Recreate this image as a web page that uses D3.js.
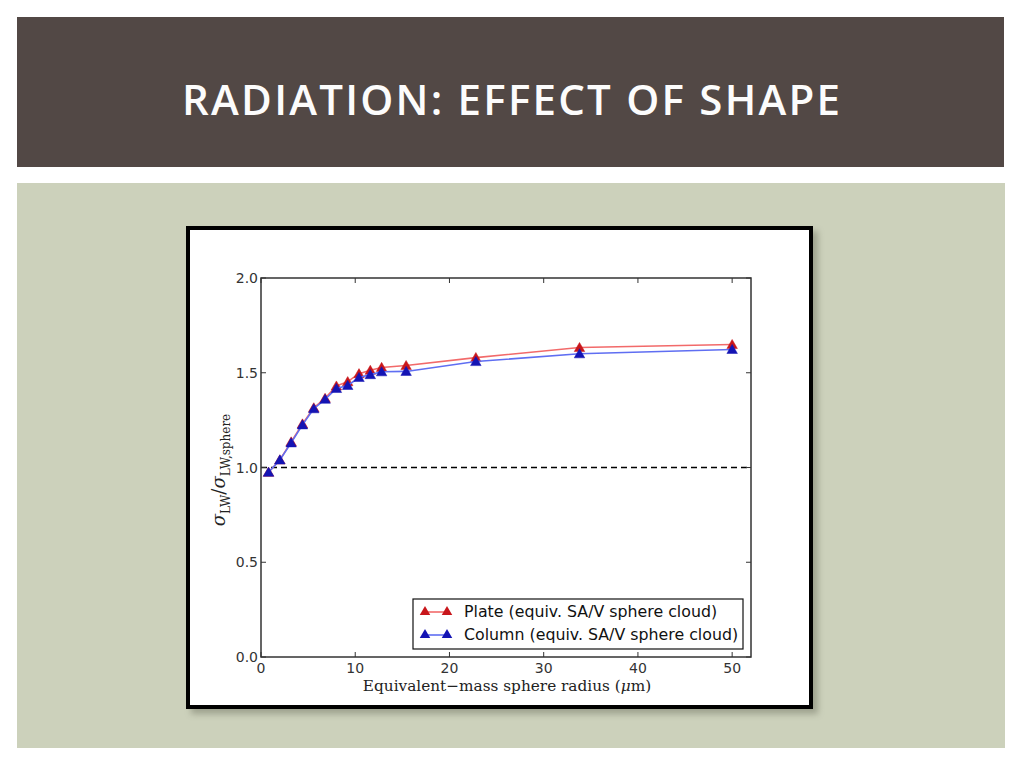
<!DOCTYPE html>
<html><head><meta charset="utf-8">
<script src="https://cdn.jsdelivr.net/npm/d3@7"></script>
<style>html,body{margin:0;padding:0;background:#fff;}svg{display:block;}</style>
</head><body>
<script>
const radius = [0.8, 2.0, 3.2, 4.4, 5.6, 6.8, 8.0, 9.2, 10.4, 11.6, 12.8, 15.4, 22.8, 33.8, 50];
const plate  = [0.975, 1.04, 1.135, 1.23, 1.315, 1.365, 1.43, 1.453, 1.495, 1.513, 1.528, 1.538, 1.58, 1.633, 1.649];
const column = [0.975, 1.04, 1.13, 1.225, 1.31, 1.36, 1.417, 1.433, 1.475, 1.49, 1.505, 1.507, 1.559, 1.60, 1.623];
const xTicks = [0, 10, 20, 30, 40, 50];
const yTicks = [0.0, 0.5, 1.0, 1.5, 2.0];
const seriesNames = ["Plate (equiv. SA/V sphere cloud)", "Column (equiv. SA/V sphere cloud)"];
const title = "RADIATION: EFFECT OF SHAPE";

const W = 1024, H = 768;
const svg = d3.select("body").append("svg").attr("width", W).attr("height", H);
const defs = svg.append("defs");
const f = defs.append("filter").attr("id","sh").attr("x","-10%").attr("y","-10%").attr("width","130%").attr("height","130%");
f.append("feGaussianBlur").attr("stdDeviation", 3);

// slide background
svg.append("rect").attr("x",0).attr("y",0).attr("width",W).attr("height",H).attr("fill","#ffffff");
svg.append("rect").attr("x",17).attr("y",17).attr("width",987).attr("height",150).attr("fill","#524845");
svg.append("rect").attr("x",17).attr("y",183).attr("width",988).attr("height",565).attr("fill","#ccd1bb");
svg.append("text").attr("x",182).attr("y",115).attr("fill","#fcfcfc")
  .attr("font-family","Open Sans").attr("font-size",42).attr("font-weight",600)
  .attr("textLength",658).attr("lengthAdjust","spacing").text(title);

// chart frame with shadow
svg.append("rect").attr("x",191).attr("y",231).attr("width",627).attr("height",483).attr("fill","#8a8e7c").attr("opacity",0.7).attr("filter","url(#sh)");
svg.append("rect").attr("x",188).attr("y",228).attr("width",623).attr("height",479).attr("fill","#fff").attr("stroke","#000").attr("stroke-width",4);

const x = d3.scaleLinear().domain([0, 52]).range([261, 751]);
const y = d3.scaleLinear().domain([0, 2]).range([657, 278]);
const g = svg.append("g");

// dashed reference line
g.append("line").attr("x1",x(0)).attr("x2",x(52)).attr("y1",y(1)).attr("y2",y(1))
  .attr("stroke","#000").attr("stroke-width",1.3).attr("stroke-dasharray","6,4");

const tri = d3.symbol().type(d3.symbolTriangle).size(48);
const line = d3.line().x((d,i)=>x(radius[i])).y(d=>y(d));
const series = [
  {vals: plate, line: "#f26a6a", mark: "#c8161b"},
  {vals: column, line: "#5f6ef2", mark: "#1414b4"}
];
series.forEach(s=>{
  g.append("path").attr("d", line(s.vals)).attr("fill","none").attr("stroke",s.line).attr("stroke-width",1.6);
  g.selectAll(null).data(s.vals).enter().append("path")
    .attr("d", tri).attr("transform",(d,i)=>`translate(${x(radius[i])},${y(d)+1})`)
    .attr("fill",s.mark).attr("stroke",s.mark).attr("stroke-width",0.5);
});

// axes frame
const ax = svg.append("g").attr("font-family","DejaVu Sans").attr("font-size",14).attr("fill","#333");
ax.append("rect").attr("x",x(0)).attr("y",y(2)).attr("width",x(52)-x(0)).attr("height",y(0)-y(2))
  .attr("fill","none").attr("stroke","#333").attr("stroke-width",1.5);
xTicks.forEach(t=>{
  ax.append("line").attr("x1",x(t)).attr("x2",x(t)).attr("y1",y(0)).attr("y2",y(0)-5).attr("stroke","#333");
  ax.append("line").attr("x1",x(t)).attr("x2",x(t)).attr("y1",y(2)).attr("y2",y(2)+5).attr("stroke","#333");
  ax.append("text").attr("x",x(t)).attr("y",y(0)+16).attr("text-anchor","middle").text(t);
});
yTicks.forEach(t=>{
  ax.append("line").attr("x1",x(0)).attr("x2",x(0)+5).attr("y1",y(t)).attr("y2",y(t)).attr("stroke","#333");
  ax.append("line").attr("x1",x(52)).attr("x2",x(52)-5).attr("y1",y(t)).attr("y2",y(t)).attr("stroke","#333");
  ax.append("text").attr("x",x(0)-3).attr("y",y(t)+5).attr("text-anchor","end").text(t.toFixed(1));
});

// axis labels
svg.append("text").attr("x",507).attr("y",691).attr("text-anchor","middle")
  .attr("font-family","DejaVu Serif").attr("font-size",15.3).attr("fill","#222")
  .html('Equivalent\u2212mass sphere radius (<tspan font-style="italic">\u03bc</tspan>m)');
const yl = svg.append("text").attr("transform","translate(225,470) rotate(-90)").attr("text-anchor","middle")
  .attr("font-family","DejaVu Serif").attr("font-size",18).attr("fill","#222");
yl.append("tspan").attr("font-style","italic").text("\u03c3");
yl.append("tspan").attr("font-size",12).attr("dy",5).text("LW");
yl.append("tspan").attr("dy",-5).text("/");
yl.append("tspan").attr("font-style","italic").text("\u03c3");
yl.append("tspan").attr("font-size",12).attr("dy",5).text("LW,sphere");

// legend
const lg = svg.append("g");
lg.append("rect").attr("x",413).attr("y",599).attr("width",330).attr("height",50).attr("fill","#fff").attr("stroke","#111").attr("stroke-width",1.2);
series.forEach((s,i)=>{
  const yy = 612 + i*23;
  lg.append("line").attr("x1",425).attr("x2",447).attr("y1",yy).attr("y2",yy).attr("stroke",s.line).attr("stroke-width",1.6);
  [425,447].forEach(xx=>lg.append("path").attr("d",tri).attr("transform",`translate(${xx},${yy})`).attr("fill",s.mark));
  lg.append("text").attr("x",464).attr("y",yy+5).attr("font-family","DejaVu Sans").attr("font-size",15.8).attr("fill","#111").text(seriesNames[i]);
});
</script>
</body></html>
